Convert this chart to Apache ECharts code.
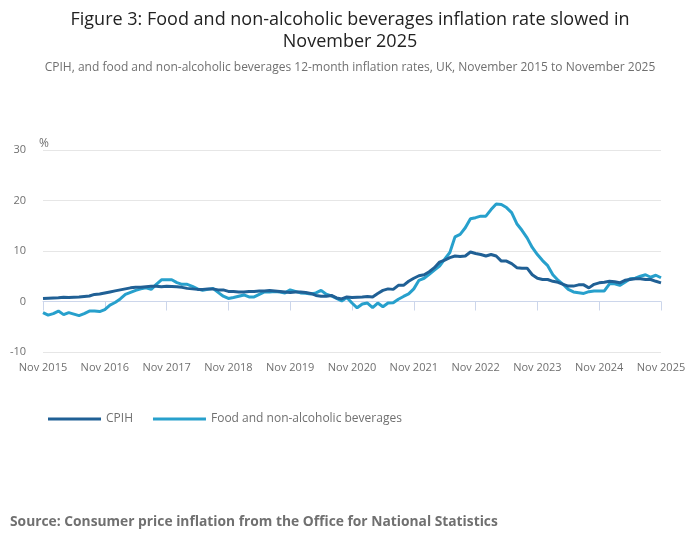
<!DOCTYPE html>
<html>
<head>
<meta charset="utf-8">
<script src="https://cdn.jsdelivr.net/npm/echarts@6/dist/echarts.min.js"></script>
<style>
  html, body { margin: 0; padding: 0; background: #fff; }
  #chart { width: 700px; height: 549px; }
</style>
</head>
<body>
<div id="chart"></div>
<script>
// monthly, Nov 2015 .. Nov 2025
var monthNames = ['Jan','Feb','Mar','Apr','May','Jun','Jul','Aug','Sep','Oct','Nov','Dec'];
var months = [];
for (var i = 0; i < 121; i++) {
    var m = (10 + i) % 12;
    var y = 2015 + Math.floor((10 + i) / 12);
    months.push(monthNames[m] + ' ' + y);
}

var cpih = [
    0.6, 0.65, 0.7, 0.75, 0.85, 0.8, 0.85, 0.9, 1.0, 1.1, 1.4, 1.5,
    1.7, 1.9, 2.1, 2.3, 2.5, 2.7, 2.8, 2.8, 2.9, 3.0, 3.0, 2.9,
    3.0, 2.95, 2.9, 2.8, 2.6, 2.5, 2.4, 2.4, 2.5, 2.5, 2.3, 2.3,
    2.0, 2.0, 1.9, 1.9, 2.0, 2.0, 2.1, 2.1, 2.2, 2.1, 2.0, 1.9,
    1.8, 1.9, 1.9, 1.8, 1.6, 1.2, 1.05, 1.05, 1.2, 0.7, 0.5, 0.9,
    0.8, 0.85, 0.9, 1.0, 0.9, 1.6, 2.2, 2.5, 2.4, 3.2, 3.2, 4.0,
    4.6, 5.1, 5.3, 5.9, 6.7, 7.8, 8.2, 8.7, 9.0, 8.9, 9.0, 9.8,
    9.5, 9.3, 9.0, 9.3, 9.0, 8.0, 8.0, 7.5, 6.7, 6.6, 6.6, 5.3,
    4.6, 4.35, 4.35, 4.0, 3.8, 3.4, 3.05, 3.05, 3.3, 3.3, 2.7, 3.4,
    3.7, 3.8, 4.0, 3.9, 3.7, 4.2, 4.35, 4.5, 4.5, 4.35, 4.35, 4.0,
    3.7
];

var food = [
    -2.2, -2.7, -2.4, -1.9, -2.6, -2.2, -2.5, -2.8, -2.4, -1.9, -1.9, -2.0,
    -1.6, -0.7, -0.2, 0.5, 1.4, 1.8, 2.2, 2.5, 2.7, 2.4, 3.4, 4.3,
    4.3, 4.3, 3.75, 3.4, 3.4, 3.0, 2.5, 2.2, 2.4, 2.6, 1.8, 1.05,
    0.6, 0.8, 1.05, 1.3, 0.9, 0.9, 1.4, 1.9, 1.9, 2.0, 1.9, 1.7,
    2.3, 2.0, 1.7, 1.65, 1.5, 1.7, 2.2, 1.45, 1.1, 0.6, 0.1, 0.8,
    -0.3, -1.25, -0.5, -0.3, -1.2, -0.3, -1.05, -0.3, -0.25, 0.45, 1.0, 1.5,
    2.5, 4.2, 4.6, 5.4, 6.2, 7.0, 8.4, 9.7, 12.8, 13.3, 14.6, 16.4,
    16.6, 16.9, 16.9, 18.2, 19.3, 19.2, 18.6, 17.6, 15.4, 14.1, 12.6, 10.7,
    9.3, 8.1, 7.1, 5.3, 4.2, 3.4, 2.4, 1.9, 1.75, 1.6, 1.95, 2.1,
    2.1, 2.1, 3.5, 3.5, 3.2, 3.8, 4.5, 4.6, 5.0, 5.3, 4.8, 5.2,
    4.7
];

var seriesNames = ['CPIH', 'Food and non-alcoholic beverages'];
var colors = ['#206095', '#27a0cc'];

var chart = echarts.init(document.getElementById('chart'));
var font = '"Open Sans", "Noto Sans", sans-serif';
var titleStyle = { fontFamily: font, fontSize: 18, fontWeight: 'normal', color: '#222222' };

chart.setOption({
    animation: false,
    textStyle: { fontFamily: font },
    title: [{
        text: 'Figure 3: Food and non-alcoholic beverages inflation rate slowed in',
        left: 'center',
        top: 6,
        textStyle: titleStyle
    }, {
        text: 'November 2025',
        left: 'center',
        top: 28,
        textStyle: titleStyle
    }, {
        text: 'CPIH, and food and non-alcoholic beverages 12-month inflation rates, UK, November 2015 to November 2025',
        left: 'center',
        top: 57,
        textStyle: { fontFamily: font, fontSize: 12, fontWeight: 'normal', color: '#707070' }
    }],
    legend: {
        left: 43,
        top: 408,
        itemWidth: 53,
        itemHeight: 3,
        itemGap: 20,
        icon: 'rect',
        textStyle: { fontFamily: font, fontSize: 12, color: '#707070' },
        data: seriesNames
    },
    grid: { left: 43, right: 39, top: 150, bottom: 197, containLabel: false },
    xAxis: {
        type: 'category',
        data: months,
        boundaryGap: false,
        axisLine: { lineStyle: { color: '#ccd6eb' } },
        axisTick: { interval: 11, length: 9, lineStyle: { color: '#ccd6eb' } },
        axisLabel: {
            interval: 11,
            color: '#707070',
            fontSize: 11,
            margin: 10,
            showMaxLabel: true
        },
        splitLine: { show: false }
    },
    yAxis: {
        type: 'value',
        min: -10,
        max: 30,
        interval: 10,
        name: '%',
        nameLocation: 'end',
        nameGap: 0,
        nameTextStyle: { color: '#707070', fontSize: 12, align: 'left', padding: [0, 0, 0, -4] },
        axisLine: { show: false },
        axisTick: { show: false },
        axisLabel: { color: '#707070', fontSize: 11, margin: 17 },
        splitLine: { lineStyle: { color: '#e6e6e6' } }
    },
    series: [{
        name: seriesNames[0],
        type: 'line',
        data: cpih,
        symbol: 'none',
        color: colors[0],
        lineStyle: { width: 3, color: colors[0] },
        z: 3
    }, {
        name: seriesNames[1],
        type: 'line',
        data: food,
        symbol: 'none',
        color: colors[1],
        lineStyle: { width: 3, color: colors[1] },
        z: 2
    }],
    graphic: [{
        type: 'text',
        left: 10,
        top: 515,
        style: {
            text: 'Source: Consumer price inflation from the Office for National Statistics',
            font: 'bold 13.8px "Open Sans", "Noto Sans", sans-serif',
            fill: '#707070'
        }
    }]
});
</script>
</body>
</html>
